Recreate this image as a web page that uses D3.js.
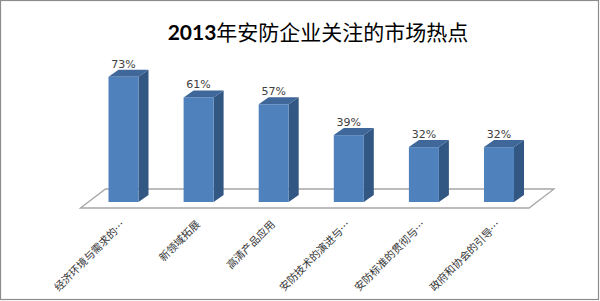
<!DOCTYPE html>
<html><head><meta charset="utf-8">
<script src="https://cdn.jsdelivr.net/npm/d3@7"></script>
<style>html,body{margin:0;padding:0;background:#fff;}svg{display:block;}</style>
</head><body>
<svg id="c" width="600" height="301"></svg>
<script>
const categories = ["经济环境与需求的…","新领域拓展","高清产品应用","安防技术的演进与…","安防标准的贯彻与…","政府和协会的引导…"];
const values = [73, 61, 57, 39, 32, 32];
const valueLabels = ["73%","61%","57%","39%","32%","32%"];
const titleNum = "2013";
const titleText = "年安防企业关注的市场热点";

const svg = d3.select("#c");
svg.append("rect").attr("x",0.5).attr("y",0.5).attr("width",598).attr("height",299)
  .attr("fill","#fff").attr("stroke","#8c8c8c").attr("stroke-width",1.2);

const x = d3.scalePoint().domain(categories).range([123.5, 499]);
const y = d3.scaleLinear().domain([0, 100]).range([202, 30.5]);
const bw = 30, dx = 10, dy = -7;

// floor
const fy0 = y(0) + 6, fy1 = y(0) - 13, fdx = 25;
const fl = x(categories[0]) - 43, fr = x(categories[categories.length-1]) + 30;
svg.append("path")
  .attr("d", `M${fl},${fy0}L${fl+fdx},${fy1}L${fr+fdx},${fy1}L${fr},${fy0}Z`)
  .attr("fill","#fff").attr("stroke","#a6a6a6").attr("stroke-width",1.3);

const g = svg.append("g").selectAll("g").data(categories).join("g");
g.each(function(c, i){
  const gg = d3.select(this);
  const x0 = x(c) - bw/2, x1 = x(c) + bw/2;
  const yt = y(values[i]), yb = y(0);
  gg.append("path").attr("d",`M${x1},${yt}L${x1+dx},${yt+dy}L${x1+dx},${yb+dy}L${x1},${yb}Z`).attr("fill","#335783");
  gg.append("path").attr("d",`M${x0},${yt}L${x0+dx},${yt+dy}L${x1+dx},${yt+dy}L${x1},${yt}Z`).attr("fill","#3f6799");
  gg.append("rect").attr("x",x0).attr("y",yt).attr("width",bw).attr("height",yb-yt).attr("fill","#4f81bd");
  gg.append("text").attr("x",x(c)).attr("y",yt+dy-2).attr("text-anchor","middle")
    .attr("font-family","'DejaVu Sans', sans-serif").attr("font-size",11).attr("fill","#404040")
    .text(valueLabels[i]);
  gg.append("text")
    .attr("transform",`translate(${x(c)+2},${y(0)+23}) rotate(-45)`)
    .attr("text-anchor","end")
    .attr("font-family","'Noto Sans CJK SC', sans-serif").attr("font-size",10.5).attr("fill","#333")
    .text(c);
});

const t = svg.append("text").attr("x",318).attr("y",40).attr("text-anchor","middle")
  .attr("font-size",21).attr("fill","#000");
t.append("tspan").attr("font-family","Lato, 'Open Sans', sans-serif").attr("font-weight","bold").text(titleNum);
t.append("tspan").attr("font-family","'Noto Sans CJK SC', sans-serif").attr("font-weight","400").text(titleText);
</script>
</body></html>
